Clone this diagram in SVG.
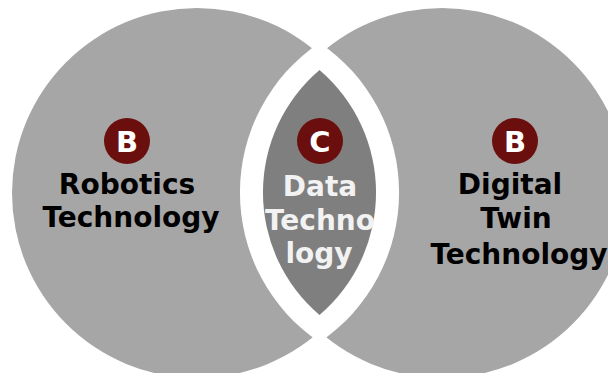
<svg xmlns="http://www.w3.org/2000/svg" width="608" height="373" viewBox="0 0 608 373">
  <style>
    .circle { fill: #a6a6a6; }
    .gap { fill: #ffffff; }
    .lens { fill: #7f7f7f; }
    .badge { fill: #6b0e0e; }
    .badge-txt { font-family: "DejaVu Sans", Verdana, sans-serif; font-weight: bold; font-size: 29px; fill: #ffffff; text-anchor: middle; }
    .lbl { font-family: "DejaVu Sans", Verdana, sans-serif; font-weight: bold; font-size: 28px; fill: #000000; text-anchor: middle; }
    .lbl-light { fill: #f2f2f2; }
  </style>
  <rect width="608" height="373" fill="#ffffff"/>
  <g id="robotics-circle">
    <circle class="circle" cx="197" cy="193" r="185"/>
  </g>
  <g id="digital-twin-circle">
    <circle class="circle" cx="442" cy="193" r="185"/>
  </g>
  <g id="data-lens">
    <path class="gap" d="M 319.5 42.7 A 180.8 180.8 0 0 1 319.5 342.3 A 180.8 180.8 0 0 1 319.5 42.7 Z"/>
    <path class="lens" d="M 319.5 70 A 161 161 0 0 1 319.5 315 A 161 161 0 0 1 319.5 70 Z"/>
  </g>
  <g id="robotics">
    <circle class="badge" cx="127" cy="141" r="23"/>
    <text class="badge-txt" x="127" y="151.5">B</text>
    <text class="lbl" x="127" y="194">Robotics</text>
    <text class="lbl" x="131" y="227">Technology</text>
  </g>
  <g id="data">
    <circle class="badge" cx="320" cy="141" r="23"/>
    <text class="badge-txt" x="320" y="151.5">C</text>
    <text class="lbl lbl-light" x="320" y="196">Data</text>
    <text class="lbl lbl-light" x="320" y="230">Techno</text>
    <text class="lbl lbl-light" x="319" y="263">logy</text>
  </g>
  <g id="digital-twin">
    <circle class="badge" cx="515" cy="141" r="23"/>
    <text class="badge-txt" x="515" y="151.5">B</text>
    <text class="lbl" x="510" y="194">Digital</text>
    <text class="lbl" x="516" y="228">Twin</text>
    <text class="lbl" x="519" y="264">Technology</text>
  </g>
  <g id="connectors"/>
</svg>
